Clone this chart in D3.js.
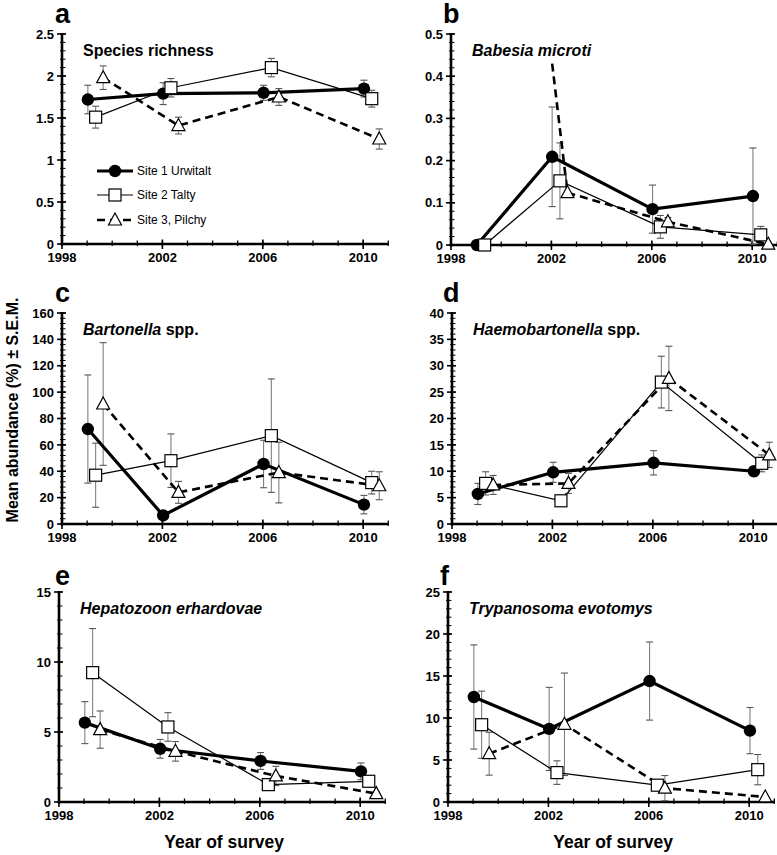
<!DOCTYPE html>
<html><head><meta charset="utf-8">
<script src="https://cdn.jsdelivr.net/npm/d3@7"></script>
<style>body{margin:0;background:#fff}svg{display:block;font-family:"Liberation Sans",Arial,Helvetica,sans-serif}</style>
</head><body><svg id="c" width="777" height="855"></svg>
<script>
// ---------- data ----------
const years = [1999, 2002, 2006, 2010];
const siteNames = ["Site 1 Urwitalt", "Site 2 Talty", "Site 3, Pilchy"];
const siteOffsets = [0.03, 0.34, 0.64];
const xTicks = [1998, 2002, 2006, 2010];

// a: Species richness
const aS1 = [1.72, 1.79, 1.80, 1.85], aS1Sem = [0.17, 0.13, 0.09, 0.10];
const aS2 = [1.51, 1.86, 2.10, 1.73], aS2Sem = [0.13, 0.11, 0.11, 0.10];
const aS3 = [1.98, 1.41, 1.75, 1.25], aS3Sem = [0.14, 0.10, 0.10, 0.12];
// b: Babesia microti
const bS1 = [0, 0.209, 0.085, 0.116], bS1Sem = [0, 0.118, 0.057, 0.114];
const bS2 = [0, 0.152, 0.043, 0.024], bS2Sem = [0, 0.090, 0.027, 0.02];
const bS3 = [null, 0.124, 0.055, 0.002], bS3Sem = [0, 0, 0.01, 0];
const bS3LeadIn = [2002.03, 0.43]; // stray dashed segment in the original
// c: Bartonella spp.
const cS1 = [72, 6.5, 45.5, 14.7], cS1Sem = [41, 0, 18, 7];
const cS2 = [37, 48, 67, 31.4], cS2Sem = [24.3, 20.3, 43, 8.6];
const cS3 = [91, 24, 39, 29], cS3Sem = [46.5, 8.3, 23, 10.6];
// d: Haemobartonella spp.
const dS1 = [5.7, 9.8, 11.6, 10.0], dS1Sem = [2.0, 1.9, 2.3, 0.9];
const dS2 = [7.7, 4.4, 26.9, 11.5], dS2Sem = [2.2, 0, 4.9, 1.6];
const dS3 = [7.4, 7.7, 27.6, 13.1], dS3Sem = [1.8, 1.9, 6.1, 2.4];
// e: Hepatozoon erhardovae
const eS1 = [5.67, 3.8, 2.93, 2.19], eS1Sem = [1.5, 0.67, 0.6, 0.6];
const eS2 = [9.24, 5.36, 1.24, 1.48], eS2Sem = [3.15, 1.02, 0.1, 0.1];
const eS3 = [5.17, 3.62, 1.86, 0.6], eS3Sem = [1.33, 0.7, 0.69, 0];
// f: Trypanosoma evotomys
const fS1 = [12.5, 8.7, 14.4, 8.5], fS1Sem = [6.2, 4.95, 4.65, 2.75];
const fS2 = [9.2, 3.5, 2.0, 3.85], fS2Sem = [4.0, 1.4, 0.1, 1.8];
const fS3 = [5.75, 9.25, 1.65, 0.6], fS3Sem = [2.55, 6.1, 1.5, 0];

const panels = [
  {letter:"a", title:[["Species richness",false]], max:2.5, major:0.5, minor:0.1, fmt:d=>d===0?"0":String(+d.toFixed(1)),
   series:[[aS1,aS1Sem],[aS2,aS2Sem],[aS3,aS3Sem]], legend:true},
  {letter:"b", title:[["Babesia microti",true]], max:0.5, major:0.1, minor:0.02, fmt:d=>d===0?"0":d.toFixed(1),
   series:[[bS1,bS1Sem],[bS2,bS2Sem],[bS3,bS3Sem]], leadIn:bS3LeadIn},
  {letter:"c", title:[["Bartonella",true],[" spp.",false]], max:160, major:20, minor:4, fmt:d=>String(d),
   series:[[cS1,cS1Sem],[cS2,cS2Sem],[cS3,cS3Sem]]},
  {letter:"d", title:[["Haemobartonella",true],[" spp.",false]], max:40, major:5, minor:1, fmt:d=>String(d),
   series:[[dS1,dS1Sem],[dS2,dS2Sem],[dS3,dS3Sem]]},
  {letter:"e", title:[["Hepatozoon erhardovae",true]], max:15, major:5, minor:1, fmt:d=>String(d),
   series:[[eS1,eS1Sem],[eS2,eS2Sem],[eS3,eS3Sem]], xlabel:true},
  {letter:"f", title:[["Trypanosoma evotomys",true]], max:25, major:5, minor:1, fmt:d=>String(d),
   series:[[fS1,fS1Sem],[fS2,fS2Sem],[fS3,fS3Sem]], xlabel:true}
];

// ---------- layout ----------
const layout = [
  {x0:62, y0:34, y1:244, lx:55, ly:23},
  {x0:451, y0:34, y1:245, lx:443, ly:23},
  {x0:62, y0:313, y1:524, lx:55, ly:302},
  {x0:452, y0:313, y1:524, lx:443, ly:302},
  {x0:59, y0:592, y1:802, lx:55, ly:585},
  {x0:448, y0:592, y1:802, lx:440, ly:585}
];
const pxPerYear = 25.1;
const svg = d3.select("#c");
const sym = d3.symbol();

function drawMarker(g, site, x, y) {
  if (site === 0) {
    g.append("circle").attr("cx", x).attr("cy", y).attr("r", 6.2).attr("fill", "#000");
  } else if (site === 1) {
    g.append("rect").attr("x", x-6).attr("y", y-6).attr("width", 12).attr("height", 12)
      .attr("fill", "#fff").attr("stroke", "#000").attr("stroke-width", 1.2);
  } else {
    g.append("path").attr("d", `M${x},${y-7}L${x+6.5},${y+5}L${x-6.5},${y+5}Z`)
      .attr("fill", "#fff").attr("stroke", "#000").attr("stroke-width", 1.2);
  }
}
const lineStyle = [
  {w:3.2, dash:null},
  {w:1.2, dash:null},
  {w:2.6, dash:"8,5"}
];

panels.forEach((p, i) => {
  const L = layout[i];
  const x = d3.scaleLinear().domain([1998, 2011]).range([L.x0, L.x0 + 13*pxPerYear]);
  const y = d3.scaleLinear().domain([0, p.max]).range([L.y1, L.y0]);
  const g = svg.append("g");

  // y axis
  const nMinor = Math.round(p.max / p.minor);
  const minorVals = d3.range(nMinor + 1).map(k => k * p.minor);
  const nMajor = Math.round(p.max / p.major);
  const majorVals = d3.range(nMajor + 1).map(k => +(k * p.major).toFixed(6));
  g.selectAll(".ymin").data(minorVals).join("line")
    .attr("x1", L.x0 - 2).attr("x2", L.x0 + 3.5).attr("y1", d => y(d)).attr("y2", d => y(d))
    .attr("stroke", "#000").attr("stroke-width", 1);
  g.selectAll(".ymaj").data(majorVals).join("line")
    .attr("x1", L.x0 - 5).attr("x2", L.x0 + 4).attr("y1", d => y(d)).attr("y2", d => y(d))
    .attr("stroke", "#000").attr("stroke-width", 1.6);
  g.selectAll(".ylab").data(majorVals).join("text")
    .attr("x", L.x0 - 8).attr("y", d => y(d)).attr("dy", "0.36em")
    .attr("text-anchor", "end").attr("font-size", 13).attr("font-weight", "bold")
    .text(p.fmt);
  g.append("line").attr("x1", L.x0).attr("x2", L.x0).attr("y1", y(p.max) - 1).attr("y2", y(0) + 1.3)
    .attr("stroke", "#000").attr("stroke-width", 2.6);

  // x axis
  const yearVals = d3.range(1998, 2012);
  g.selectAll(".xmin").data(yearVals).join("line")
    .attr("x1", d => x(d)).attr("x2", d => x(d)).attr("y1", y(0) - 3.5).attr("y2", y(0) + 2)
    .attr("stroke", "#000").attr("stroke-width", 1.3);
  g.selectAll(".xmaj").data(xTicks).join("line")
    .attr("x1", d => x(d)).attr("x2", d => x(d)).attr("y1", y(0) - 4.5).attr("y2", y(0) + 5)
    .attr("stroke", "#000").attr("stroke-width", 1.6);
  g.append("line").attr("x1", L.x0).attr("x2", x(2011)).attr("y1", y(0)).attr("y2", y(0))
    .attr("stroke", "#000").attr("stroke-width", 2.6);
  g.selectAll(".xlab").data(xTicks).join("text")
    .attr("x", d => x(d)).attr("y", y(0) + 18)
    .attr("text-anchor", "middle").attr("font-size", 13).attr("font-weight", "bold")
    .text(d => d);

  // letter and title
  g.append("text").attr("x", L.lx).attr("y", L.ly).attr("font-size", 27).attr("font-weight", "bold").text(p.letter);
  const t = g.append("text").attr("x", L.x0 + 21).attr("y", L.y0 + 22).attr("font-size", 16).attr("font-weight", "bold");
  p.title.forEach(([s, it]) => t.append("tspan").attr("font-style", it ? "italic" : "normal").text(s));

  // error bars
  p.series.forEach(([vals, sem], s) => {
    vals.forEach((v, k) => {
      if (v === null || !sem[k]) return;
      const cx = x(years[k] + siteOffsets[s]);
      const top = y(Math.min(v + sem[k], p.max)), bot = y(Math.max(v - sem[k], 0));
      g.append("line").attr("x1", cx).attr("x2", cx).attr("y1", top).attr("y2", bot)
        .attr("stroke", "#808080").attr("stroke-width", 1.1);
      [v + sem[k], v - sem[k]].forEach(e => {
        if (e < 0 || e > p.max) return;
        g.append("line").attr("x1", cx - 3.5).attr("x2", cx + 3.5).attr("y1", y(e)).attr("y2", y(e))
          .attr("stroke", "#555").attr("stroke-width", 1.1);
      });
    });
  });
  // lines
  p.series.forEach(([vals], s) => {
    let pts = vals.map((v, k) => [years[k] + siteOffsets[s], v]).filter(d => d[1] !== null);
    if (s === 2 && p.leadIn) pts = [p.leadIn, ...pts];
    const ln = d3.line().x(d => x(d[0])).y(d => y(d[1]));
    g.append("path").attr("d", ln(pts)).attr("fill", "none").attr("stroke", "#000")
      .attr("stroke-width", lineStyle[s].w).attr("stroke-dasharray", lineStyle[s].dash);
  });
  // markers
  p.series.forEach(([vals], s) => {
    vals.forEach((v, k) => {
      if (v === null) return;
      drawMarker(g, s, x(years[k] + siteOffsets[s]), y(v));
    });
  });

  // legend
  if (p.legend) {
    const rows = [171, 195, 220];
    siteNames.forEach((nm, s) => {
      g.append("line").attr("x1", 97).attr("x2", 133).attr("y1", rows[s]).attr("y2", rows[s])
        .attr("stroke", "#000").attr("stroke-width", lineStyle[s].w).attr("stroke-dasharray", lineStyle[s].dash);
      drawMarker(g, s, 115, rows[s]);
      g.append("text").attr("x", 137).attr("y", rows[s]).attr("dy", "0.36em").attr("font-size", 12).text(nm);
    });
  }
  if (p.xlabel) {
    g.append("text").attr("x", (L.x0 + x(2011)) / 2 + 2).attr("y", 848).attr("text-anchor", "middle")
      .attr("font-size", 17.5).attr("font-weight", "bold").text("Year of survey");
  }
});

svg.append("text").attr("transform", "translate(18,410) rotate(-90)").attr("text-anchor", "middle")
  .attr("font-size", 16).attr("font-weight", "bold").text("Mean abundance (%) ± S.E.M.");
</script></body></html>
